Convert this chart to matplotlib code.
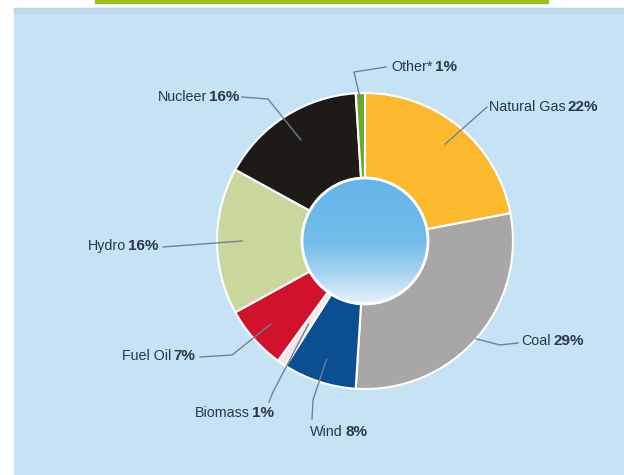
import numpy as np
import matplotlib.pyplot as plt
from matplotlib.patches import Rectangle, Circle
from matplotlib.colors import LinearSegmentedColormap

plt.rcParams['font.family'] = ['Liberation Sans', 'DejaVu Sans']

# Энергобаланс: доли источников, %
sources = ["Natural Gas", "Coal", "Wind", "Biomass", "Fuel Oil", "Hydro", "Nucleer", "Other*"]
shares = [22, 29, 8, 1, 7, 16, 16, 1]
colors = ["#fbb92e", "#a7a7a7", "#0b4f93", "#f3e4e6", "#d1122c", "#c9d79c", "#1e1a18", "#6aab2d"]

# Подписи: (точка разделения имени и процента, y, радиус начала выноски, изломы выноски)
label_pos = {
    "Natural Gas": (567, 107, 0.85, [(487, 107)]),
    "Coal": (552, 341, 1.0, [(500, 345), (518, 343)]),
    "Wind": (344, 432, 0.84, [(313, 400), (312, 419)]),
    "Biomass": (251, 413, 0.68, [(273, 392), (269, 402)]),
    "Fuel Oil": (172, 356, 0.85, [(232, 355), (200, 357)]),
    "Hydro": (127, 246, 0.83, [(163, 247)]),
    "Nucleer": (208, 97, 0.81, [(268, 99), (242, 97)]),
    "Other*": (434, 67, 0.95, [(354, 72), (386, 67)]),
}

W, H = 624, 475
fig = plt.figure(figsize=(W / 100, H / 100), dpi=100)
ax = fig.add_axes([0, 0, 1, 1])

# фон: голубая панель и зелёная полоска сверху
ax.add_patch(Rectangle((14, 8), W - 14, H - 8, color="#c6e3f5", zorder=0))
ax.add_patch(Rectangle((14, 8), W - 14, 5, color="#bcd8ec", zorder=0))
ax.add_patch(Rectangle((95, 0), 453, 3, color="#96c11f", zorder=0))

cx, cy, R, r_in = 365, 241, 148, 63
wedges, _ = ax.pie(shares, colors=colors, radius=R, center=(cx, cy),
                   startangle=-90, counterclock=True,
                   wedgeprops=dict(width=R - r_in, edgecolor="white", linewidth=1.5))

# центральный круг с градиентом
cmap = LinearSegmentedColormap.from_list(
    "ctr", [(0, "#64b5e8"), (0.5, "#72bce9"), (0.72, "#9fd0ef"), (1, "#e6f3fb")])
grad = np.linspace(0, 1, 256)[:, None] * np.ones((1, 2))
im = ax.imshow(grad, cmap=cmap, extent=(cx - r_in, cx + r_in, cy + r_in, cy - r_in),
               origin="upper", zorder=3)
clip = Circle((cx, cy), r_in, transform=ax.transData)
im.set_clip_path(clip)
ax.add_patch(Circle((cx, cy), r_in, facecolor="none", edgecolor="white", linewidth=2, zorder=4))

# выноски и подписи
for w, name, val in zip(wedges, sources, shares):
    sx, ty, rf, bends = label_pos[name]
    a = np.deg2rad((w.theta1 + w.theta2) / 2)
    px, py = cx + rf * R * np.cos(a), cy + rf * R * np.sin(a)
    xs = [px] + [b[0] for b in bends]
    ys = [py] + [b[1] for b in bends]
    ax.plot(xs, ys, color="#6f8293", lw=1, zorder=5)
    ax.text(sx - 1, ty, name, ha="right", va="center", fontsize=10.3, color="#2a3645", zorder=6)
    ax.text(sx + 1, ty, f"{val}%", ha="left", va="center", fontsize=11, fontweight="bold",
            color="#2a3645", zorder=6)

ax.set_xlim(0, W)
ax.set_ylim(H, 0)
ax.set_aspect("equal")
ax.axis("off")
fig.savefig("out.png", dpi=100, facecolor="white")
